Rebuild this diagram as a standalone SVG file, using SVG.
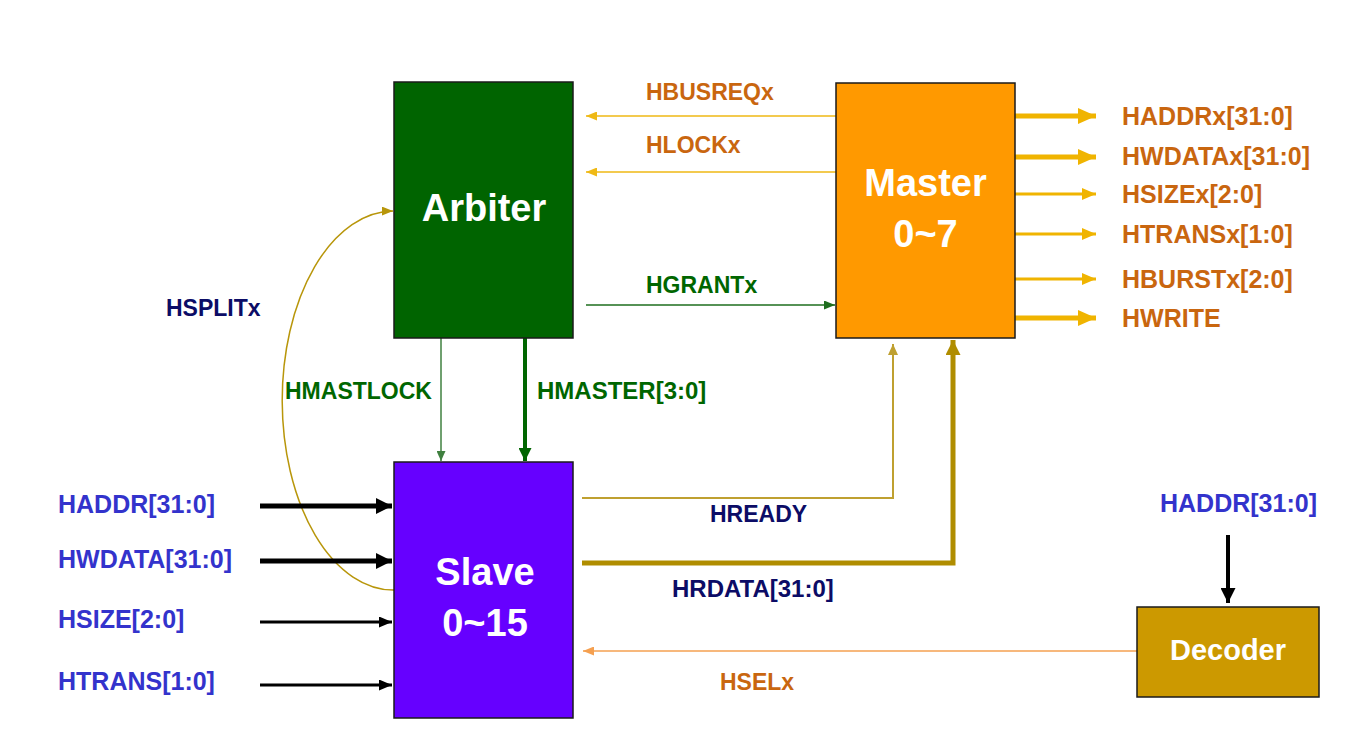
<svg xmlns="http://www.w3.org/2000/svg" width="1363" height="735" viewBox="0 0 1363 735">
<style>
text{font-family:"Liberation Sans",Arial,sans-serif;font-weight:bold}
.box{stroke:#1a1a1a;stroke-width:1.5}
.big{fill:#fff;font-size:38px;text-anchor:middle}
.lbl{font-size:23px}
.l25{font-size:25px}
.l24{font-size:24px}
.org{fill:#C9660F}
.grn{fill:#006600}
.nav{fill:#0C0C66}
.blu{fill:#3333CC}
.ln{fill:none}
</style>
<defs>
<marker id="mGoldS" markerUnits="userSpaceOnUse" markerWidth="11" markerHeight="9" refX="11" refY="4.5" orient="auto"><path d="M0,0L11,4.5L0,9z" fill="#EFB915"/></marker>
<marker id="mGoldT" markerUnits="userSpaceOnUse" markerWidth="18" markerHeight="16" refX="18" refY="8" orient="auto"><path d="M0,0L18,8L0,16z" fill="#F0B400"/></marker>
<marker id="mGoldM" markerUnits="userSpaceOnUse" markerWidth="14" markerHeight="12" refX="14" refY="6" orient="auto"><path d="M0,0L14,6L0,12z" fill="#F0B400"/></marker>
<marker id="mGrnS" markerUnits="userSpaceOnUse" markerWidth="11" markerHeight="9" refX="11" refY="4.5" orient="auto"><path d="M0,0L11,4.5L0,9z" fill="#1E6E1E"/></marker>
<marker id="mGrnL" markerUnits="userSpaceOnUse" markerWidth="10" markerHeight="9" refX="10" refY="4.5" orient="auto"><path d="M0,0L10,4.5L0,9z" fill="#3F803F"/></marker>
<marker id="mGrnT" markerUnits="userSpaceOnUse" markerWidth="13" markerHeight="13" refX="13" refY="6.5" orient="auto"><path d="M0,0L13,6.5L0,13z" fill="#006600"/></marker>
<marker id="mBlkT" markerUnits="userSpaceOnUse" markerWidth="16" markerHeight="16" refX="16" refY="8" orient="auto"><path d="M0,0L16,8L0,16z" fill="#000"/></marker>
<marker id="mBlkM" markerUnits="userSpaceOnUse" markerWidth="13" markerHeight="11" refX="13" refY="5.5" orient="auto"><path d="M0,0L13,5.5L0,11z" fill="#000"/></marker>
<marker id="mBlkD" markerUnits="userSpaceOnUse" markerWidth="15" markerHeight="15" refX="15" refY="7.5" orient="auto"><path d="M0,0L15,7.5L0,15z" fill="#000"/></marker>
<marker id="mOliS" markerUnits="userSpaceOnUse" markerWidth="11" markerHeight="10" refX="11" refY="5" orient="auto"><path d="M0,0L11,5L0,10z" fill="#BFA030"/></marker>
<marker id="mOliT" markerUnits="userSpaceOnUse" markerWidth="15" markerHeight="15" refX="15" refY="7.5" orient="auto"><path d="M0,0L15,7.5L0,15z" fill="#B08D00"/></marker>
<marker id="mOliC" markerUnits="userSpaceOnUse" markerWidth="11" markerHeight="9" refX="11" refY="4.5" orient="auto"><path d="M0,0L11,4.5L0,9z" fill="#B8960A"/></marker>
<marker id="mOrS" markerUnits="userSpaceOnUse" markerWidth="11" markerHeight="9" refX="11" refY="4.5" orient="auto"><path d="M0,0L11,4.5L0,9z" fill="#F5A050"/></marker>
</defs>

<g id="connectors">
<line x1="836" y1="116" x2="586" y2="116" stroke="#EFB915" stroke-width="1.5" marker-end="url(#mGoldS)"/>
<line x1="836" y1="172" x2="586" y2="172" stroke="#EFB915" stroke-width="1.5" marker-end="url(#mGoldS)"/>
<line x1="586" y1="305" x2="835" y2="305" stroke="#1E6E1E" stroke-width="1.5" marker-end="url(#mGrnS)"/>
<line x1="1015" y1="116" x2="1096" y2="116" stroke="#F0B400" stroke-width="5" marker-end="url(#mGoldT)"/>
<line x1="1015" y1="157" x2="1096" y2="157" stroke="#F0B400" stroke-width="5" marker-end="url(#mGoldT)"/>
<line x1="1015" y1="194" x2="1096" y2="194" stroke="#F0B400" stroke-width="3" marker-end="url(#mGoldM)"/>
<line x1="1015" y1="234" x2="1096" y2="234" stroke="#F0B400" stroke-width="3" marker-end="url(#mGoldM)"/>
<line x1="1015" y1="279" x2="1096" y2="279" stroke="#F0B400" stroke-width="3" marker-end="url(#mGoldM)"/>
<line x1="1015" y1="318" x2="1096" y2="318" stroke="#F0B400" stroke-width="5" marker-end="url(#mGoldT)"/>
<line x1="441" y1="338" x2="441" y2="461" stroke="#3F803F" stroke-width="1.5" marker-end="url(#mGrnL)"/>
<line x1="525" y1="338" x2="525" y2="461" stroke="#006600" stroke-width="4" marker-end="url(#mGrnT)"/>
<path class="ln" d="M394,590 A111,189 0 0 1 393,211" stroke="#B8960A" stroke-width="1.5" marker-end="url(#mOliC)"/>
<line x1="260" y1="506" x2="392" y2="506" stroke="#000" stroke-width="5" marker-end="url(#mBlkT)"/>
<line x1="260" y1="561" x2="392" y2="561" stroke="#000" stroke-width="5" marker-end="url(#mBlkT)"/>
<line x1="260" y1="622" x2="392" y2="622" stroke="#000" stroke-width="3" marker-end="url(#mBlkM)"/>
<line x1="260" y1="685" x2="392" y2="685" stroke="#000" stroke-width="3" marker-end="url(#mBlkM)"/>
<polyline class="ln" points="582,498 893,498 893,344" stroke="#BFA030" stroke-width="2" marker-end="url(#mOliS)"/>
<polyline class="ln" points="582,563 953,563 953,340" stroke="#B08D00" stroke-width="5" marker-end="url(#mOliT)"/>
<line x1="1137" y1="651" x2="583" y2="651" stroke="#F5A050" stroke-width="1.5" marker-end="url(#mOrS)"/>
<line x1="1228" y1="535" x2="1228" y2="603" stroke="#000" stroke-width="4" marker-end="url(#mBlkD)"/>
</g>

<g id="arbiter">
<rect class="box" x="394" y="82" width="179" height="256" fill="#006400"/>
<text class="big" x="484" y="221">Arbiter</text>
</g>

<g id="master">
<rect class="box" x="836" y="83" width="179" height="255" fill="#FF9900"/>
<text class="big" x="925.5" y="196">Master</text>
<text class="big" x="925.5" y="247">0~7</text>
</g>

<g id="slave">
<rect class="box" x="394" y="462" width="179" height="256" fill="#6600FF"/>
<text class="big" x="485" y="585">Slave</text>
<text class="big" x="485" y="636">0~15</text>
</g>

<g id="decoder">
<rect class="box" x="1137" y="607" width="182" height="90" fill="#CC9900"/>
<text class="big" x="1228" y="660" style="font-size:29px">Decoder</text>
</g>

<g id="labels">
<text class="lbl org" x="646" y="100">HBUSREQx</text>
<text class="lbl org" x="646" y="153">HLOCKx</text>
<text class="lbl grn" x="646" y="293">HGRANTx</text>
<text class="l25 org" x="1122" y="125">HADDRx[31:0]</text>
<text class="l25 org" x="1122" y="165">HWDATAx[31:0]</text>
<text class="l25 org" x="1122" y="203">HSIZEx[2:0]</text>
<text class="l25 org" x="1122" y="243">HTRANSx[1:0]</text>
<text class="l25 org" x="1122" y="288">HBURSTx[2:0]</text>
<text class="l25 org" x="1122" y="327">HWRITE</text>
<text class="lbl nav" x="166" y="316">HSPLITx</text>
<text class="lbl grn" x="285" y="399">HMASTLOCK</text>
<text class="l24 grn" x="537" y="399">HMASTER[3:0]</text>
<text class="l25 blu" x="58" y="513">HADDR[31:0]</text>
<text class="l25 blu" x="58" y="568">HWDATA[31:0]</text>
<text class="l25 blu" x="58" y="628">HSIZE[2:0]</text>
<text class="l25 blu" x="58" y="690">HTRANS[1:0]</text>
<text class="lbl nav" x="710" y="522">HREADY</text>
<text class="l24 nav" x="672" y="597">HRDATA[31:0]</text>
<text class="l25 blu" x="1160" y="512">HADDR[31:0]</text>
<text class="lbl org" x="720" y="690">HSELx</text>
</g>
</svg>
